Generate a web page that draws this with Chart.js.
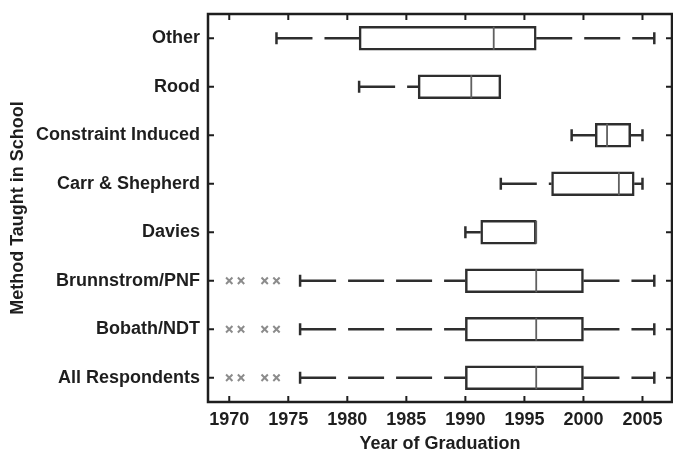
<!DOCTYPE html>
<html>
<head>
<meta charset="utf-8">
<script src="https://cdn.jsdelivr.net/npm/chart.js@4.4.1/dist/chart.umd.min.js"></script>
<style>
  html, body { margin: 0; padding: 0; background: #fff; }
  #wrap { width: 673px; height: 451px; }
</style>
</head>
<body>
<div id="wrap"><canvas id="boxChart" width="673" height="451"></canvas></div>
<script>
// categories, top to bottom
const categories = ['Other', 'Rood', 'Constraint Induced', 'Carr & Shepherd', 'Davies', 'Brunnstrom/PNF', 'Bobath/NDT', 'All Respondents'];
// five number summaries (year of graduation)
const mins    = [1974, 1981, 1999, 1993, 1990, 1976, 1976, 1976];
const q1s     = [1981, 1986, 2001, 1997.3, 1991.3, 1990, 1990, 1990];
const medians = [1992.4, 1990.5, 2002, 2003, 1996, 1996, 1996, 1996];
const q3s     = [1996, 1993, 2004, 2004.3, 1996, 2000, 2000, 2000];
const maxs    = [2006, 1993, 2005, 2005, 1996, 2006, 2006, 2006];
// outliers
const outlierCats  = ['Brunnstrom/PNF', 'Bobath/NDT', 'All Respondents'];
const outlierYears = [1970, 1971, 1973, 1974];
// x tick labels
const xTicks = [1970, 1975, 1980, 1985, 1990, 1995, 2000, 2005];

const FONT = "'Liberation Sans', Arial, sans-serif";
const DARK = '#2e2e2e';

// build whisker segments (null breaks the line between categories)
const lowWhisk = [];
const highWhisk = [];
const caps = [];
categories.forEach((c, i) => {
    if (mins[i] < q1s[i]) {
        lowWhisk.push({x: mins[i], y: c}, {x: q1s[i], y: c}, {x: null, y: c});
        caps.push({x: mins[i], y: c});
    }
    if (maxs[i] > q3s[i]) {
        highWhisk.push({x: q3s[i], y: c}, {x: maxs[i], y: c}, {x: null, y: c});
        caps.push({x: maxs[i], y: c});
    }
});
const outliers = [];
outlierCats.forEach(c => outlierYears.forEach(yr => outliers.push({x: yr, y: c})));

// frame around plot with inward ticks
const framePlugin = {
    id: 'frame',
    afterDatasetsDraw(chart) {
        const {ctx, chartArea: a, scales} = chart;
        ctx.save();
        ctx.strokeStyle = '#1e1e1e';
        ctx.lineWidth = 2.5;
        ctx.strokeRect(a.left, a.top, a.right - a.left, a.bottom - a.top);
        ctx.lineWidth = 2;
        ctx.beginPath();
        scales.x.ticks.forEach(t => {
            const px = scales.x.getPixelForValue(t.value);
            ctx.moveTo(px, a.bottom); ctx.lineTo(px, a.bottom - 6);
            ctx.moveTo(px, a.top); ctx.lineTo(px, a.top + 6);
        });
        scales.y.ticks.forEach((t, i) => {
            const py = scales.y.getPixelForTick(i);
            ctx.moveTo(a.left, py); ctx.lineTo(a.left + 6, py);
            ctx.moveTo(a.right, py); ctx.lineTo(a.right - 6, py);
        });
        ctx.stroke();
        ctx.restore();
    }
};

const ctx = document.getElementById('boxChart').getContext('2d');
new Chart(ctx, {
    type: 'bar',
    data: {
        labels: categories,
        datasets: [
            {
                // boxes q1..q3
                data: categories.map((c, i) => [q1s[i], q3s[i]]),
                backgroundColor: '#ffffff',
                borderColor: DARK,
                borderWidth: 2.5,
                borderSkipped: false,
                barThickness: 24,
                order: 3
            },
            {
                type: 'line',
                indexAxis: 'y',
                data: lowWhisk,
                borderColor: DARK,
                borderWidth: 2.5,
                borderDash: [36, 12],
                pointRadius: 0,
                spanGaps: false,
                order: 4
            },
            {
                type: 'line',
                indexAxis: 'y',
                data: highWhisk,
                borderColor: DARK,
                borderWidth: 2.5,
                borderDash: [36, 12],
                pointRadius: 0,
                spanGaps: false,
                order: 4
            },
            {
                // whisker end caps
                type: 'line',
                indexAxis: 'y',
                data: caps,
                showLine: false,
                pointStyle: 'line',
                pointRotation: 90,
                pointRadius: 6,
                pointBorderColor: DARK,
                pointBorderWidth: 2.5,
                order: 1
            },
            {
                // medians
                type: 'line',
                indexAxis: 'y',
                data: categories.map((c, i) => ({x: medians[i], y: c})),
                showLine: false,
                pointStyle: 'line',
                pointRotation: 90,
                pointRadius: 11.5,
                pointBorderColor: '#606060',
                pointBorderWidth: 1.8,
                order: 2
            },
            {
                // outliers
                type: 'line',
                indexAxis: 'y',
                data: outliers,
                showLine: false,
                pointStyle: 'crossRot',
                pointRadius: 4.5,
                pointBorderColor: '#8c8c8c',
                pointBorderWidth: 2,
                order: 1
            }
        ]
    },
    options: {
        indexAxis: 'y',
        responsive: false,
        animation: false,
        layout: { autoPadding: false, padding: { top: 14, right: 1, left: 0, bottom: 0 } },
        plugins: {
            legend: { display: false },
            tooltip: { enabled: false }
        },
        scales: {
            x: {
                type: 'linear',
                min: 1968.2,
                max: 2007.5,
                afterFit: s => { s.height = 49; s.paddingLeft = 0; s.paddingRight = 0; },
                afterBuildTicks: s => { s.ticks = xTicks.map(v => ({value: v})); },
                grid: { display: false, drawTicks: false },
                border: { display: false },
                ticks: {
                    padding: 7,
                    color: '#1e1e1e',
                    callback: v => String(v),
                    font: { family: FONT, size: 18, weight: 'bold' }
                },
                title: {
                    display: true,
                    text: 'Year of Graduation',
                    color: '#1e1e1e',
                    padding: { top: 0, bottom: -2 },
                    font: { family: FONT, size: 18, weight: 'bold', lineHeight: 1 }
                }
            },
            y: {
                type: 'category',
                afterFit: s => { s.width = 208; s.paddingTop = 0; s.paddingBottom = 0; },
                grid: { display: false, drawTicks: false },
                border: { display: false },
                ticks: {
                    padding: 8,
                    color: '#1e1e1e',
                    font: { family: FONT, size: 18, weight: 'bold' }
                },
                title: {
                    display: true,
                    text: 'Method Taught in School',
                    color: '#1e1e1e',
                    padding: { top: 9, bottom: 0 },
                    font: { family: FONT, size: 18, weight: 'bold', lineHeight: 1 }
                }
            }
        }
    },
    plugins: [framePlugin]
});
</script>
</body>
</html>
